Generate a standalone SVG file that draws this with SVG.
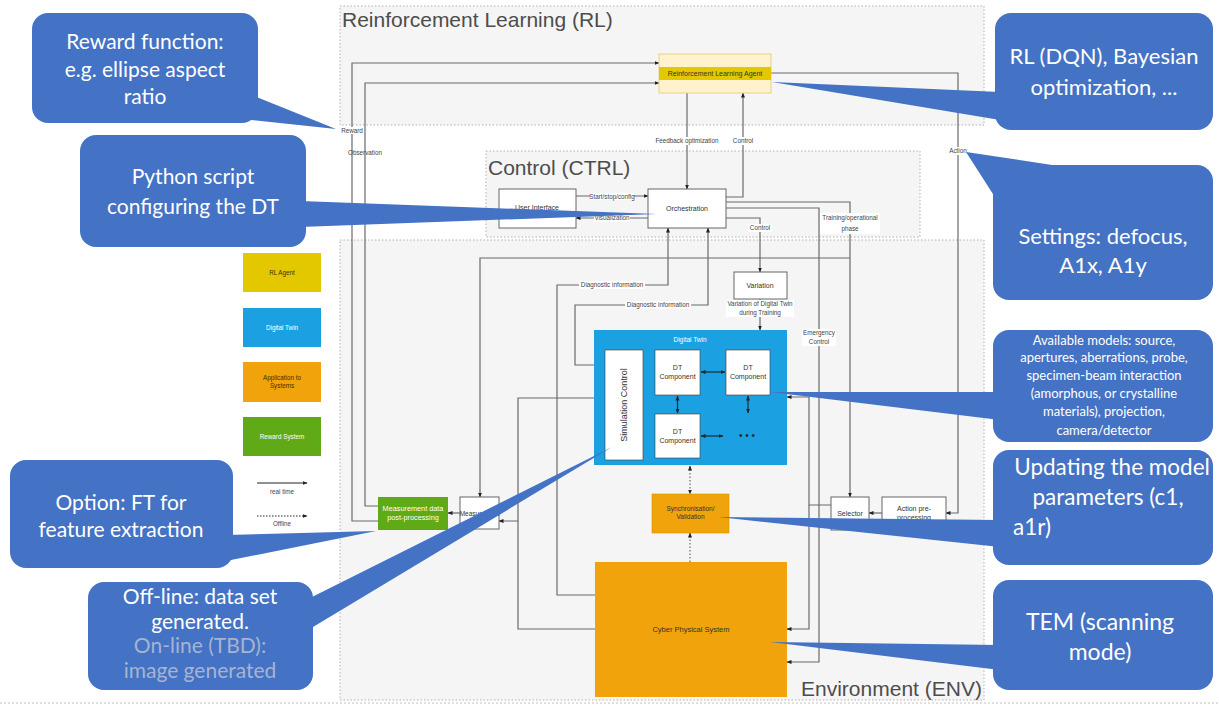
<svg xmlns="http://www.w3.org/2000/svg" width="1219" height="706" viewBox="0 0 1219 706">
  <style>
    .zone { fill: #f5f5f5; stroke: #b0b0b0; stroke-width: 1; stroke-dasharray: 1.5 2; }
    .zt { font-family: "Liberation Sans", Arial, sans-serif; font-size: 21px; fill: #4d4d4d; }
    .box { fill: #ffffff; stroke: #666666; stroke-width: 1; }
    .t { font-family: "Liberation Sans", Arial, sans-serif; font-size: 7px; fill: #333333; text-anchor: middle; }
    .s { font-family: "Liberation Sans", Arial, sans-serif; font-size: 6.3px; fill: #444444; text-anchor: middle; }
    .w { fill: #ffffff; }
    .lbg { fill: #ffffff; }
    .ln { fill: none; stroke: #6b6b6b; stroke-width: 1.2; }
    .dot { fill: none; stroke: #6b6b6b; stroke-width: 1.2; stroke-dasharray: 1.5 2; }
    .co { fill: #4472c4; }
    .ct { font-family: Lato, "Open Sans", sans-serif; fill: #ffffff; text-anchor: middle; }
  </style>
  <defs>
    <marker id="ah" viewBox="0 0 10 10" refX="9" refY="5" markerWidth="5" markerHeight="5" orient="auto-start-reverse" markerUnits="userSpaceOnUse">
      <path d="M0,1 L10,5 L0,9 Z" fill="#222222"/>
    </marker>
  </defs>

  <rect width="1219" height="706" fill="#ffffff"/>

  <!-- zones -->
  <g id="zone-rl">
    <rect class="zone" x="340" y="6" width="644" height="119"/>
    <text class="zt" x="342" y="27">Reinforcement Learning (RL)</text>
  </g>
  <g id="zone-ctrl">
    <rect class="zone" x="486" y="151" width="434" height="86"/>
    <text class="zt" x="488" y="175">Control (CTRL)</text>
  </g>
  <g id="zone-env">
    <rect class="zone" x="340" y="240" width="644" height="460"/>
    <text class="zt" x="801" y="696">Environment (ENV)</text>
  </g>
  <line x1="0" y1="703" x2="1219" y2="703" stroke="#c0c0c0" stroke-width="1" stroke-dasharray="2 2"/>

  <!-- connectors -->
  <g id="connectors">
    <path class="ln" d="M378,521 H352 V63 H659" marker-end="url(#ah)"/>
    <path class="ln" d="M378,506 H365 V83 H659" marker-end="url(#ah)"/>
    <path class="ln" d="M687,93 V189" marker-end="url(#ah)"/>
    <path class="ln" d="M726,197 H743 V93" marker-end="url(#ah)"/>
    <path class="ln" d="M771,73 H958 V513 H946" marker-end="url(#ah)"/>
    <path class="ln" d="M576,196 H648" marker-end="url(#ah)"/>
    <path class="ln" d="M648,218 H576" marker-end="url(#ah)"/>
    <path class="ln" d="M726,202 H850 V497" marker-end="url(#ah)"/>
    <path class="ln" d="M850,258 H480 V497" marker-end="url(#ah)"/>
    <path class="ln" d="M726,208 H819 V662 H787" marker-end="url(#ah)"/>
    <path class="ln" d="M726,218 H760 V272" marker-end="url(#ah)"/>
    <path class="ln" d="M760,299 V330" marker-end="url(#ah)"/>
    <path class="ln" d="M595,595 H557 V285 H668 V228" marker-end="url(#ah)"/>
    <path class="ln" d="M594,365 H575 V305 H708 V228" marker-end="url(#ah)"/>
    <path class="ln" d="M594,398 H518 V521 H499" marker-end="url(#ah)"/>
    <path class="ln" d="M595,629 H518 V521"/>
    <path class="ln" d="M831,505 H809 V397 H787" marker-end="url(#ah)"/>
    <path class="ln" d="M809,505 V629 H787" marker-end="url(#ah)"/>
    <path class="ln" d="M882,513 H869" marker-end="url(#ah)"/>
    <path class="ln" d="M460,513 H448" marker-end="url(#ah)"/>
    <path class="dot" d="M690,466 V494" marker-start="url(#ah)" marker-end="url(#ah)"/>
    <path class="dot" d="M690,562 V533" marker-end="url(#ah)"/>

    <!-- edge labels -->
    <rect class="lbg" x="341" y="127" width="22" height="7"/>
    <text class="s" x="352" y="133">Reward</text>
    <text class="s" x="365" y="155">Observation</text>
    <rect class="lbg" x="652" y="137" width="70" height="8"/>
    <text class="s" x="687" y="143">Feedback optimization</text>
    <rect class="lbg" x="732" y="137" width="22" height="8"/>
    <text class="s" x="743" y="143">Control</text>
    <rect class="lbg" x="948" y="147" width="20" height="8"/>
    <text class="s" x="958" y="153">Action</text>
    <rect class="lbg" x="590" y="193" width="44" height="7"/>
    <text class="s" x="612" y="198.5">Start/stop/config</text>
    <rect class="lbg" x="594" y="214" width="36" height="8"/>
    <text class="s" x="612" y="220">Visualization</text>
    <rect class="lbg" x="820" y="213" width="60" height="21"/>
    <text class="s" x="850" y="220">Training/operational</text>
    <text class="s" x="850" y="231">phase</text>
    <rect class="lbg" x="748" y="224" width="24" height="8"/>
    <text class="s" x="760" y="230">Control</text>
    <rect class="lbg" x="726" y="300" width="68" height="17"/>
    <text class="s" x="760" y="306">Variation of Digital Twin</text>
    <text class="s" x="760" y="315">during Training</text>
    <rect class="lbg" x="802" y="329" width="34" height="17"/>
    <text class="s" x="819" y="335">Emergency</text>
    <text class="s" x="819" y="344">Control</text>
    <rect class="lbg" x="579" y="281" width="66" height="8"/>
    <text class="s" x="612" y="287">Diagnostic information</text>
    <rect class="lbg" x="625" y="301" width="66" height="8"/>
    <text class="s" x="658" y="307">Diagnostic information</text>
  </g>

  <!-- RL agent -->
  <g id="rl-agent">
    <rect x="659" y="54" width="112" height="39" fill="#fff2cc" stroke="#e8d28a" stroke-width="1"/>
    <rect x="659" y="67" width="112" height="13" fill="#e3c800"/>
    <text class="t" x="715" y="76" fill="#4a3f00">Reinforcement Learning Agent</text>
  </g>

  <!-- control nodes -->
  <g id="user-interface">
    <rect class="box" x="499" y="189" width="77" height="39"/>
    <text class="t" x="537" y="210">User Interface</text>
  </g>
  <g id="orchestration">
    <rect class="box" x="648" y="189" width="78" height="39"/>
    <text class="t" x="687" y="210.5">Orchestration</text>
  </g>

  <!-- environment nodes -->
  <g id="variation">
    <rect class="box" x="734" y="272" width="53" height="27"/>
    <text class="t" x="760" y="288">Variation</text>
  </g>
  <g id="digital-twin">
    <rect x="594" y="330" width="193" height="135" fill="#1ba1e2"/>
    <text class="t" x="690" y="342" style="fill:#ffffff;font-size:6.5px">Digital Twin</text>
    <rect x="605" y="350" width="38" height="110" fill="#ffffff" stroke="#3a3a3a" stroke-width="0.6"/>
    <text class="t" transform="translate(627,405) rotate(-90)" style="font-size:9px">Simulation Control</text>
  </g>
  <g id="dt-component-1">
    <rect x="655" y="350" width="45" height="45" fill="#ffffff" stroke="#3a3a3a" stroke-width="0.6"/>
    <text class="t" x="677.5" y="370">DT</text>
    <text class="t" x="677.5" y="379">Component</text>
  </g>
  <g id="dt-component-2">
    <rect x="726" y="350" width="44" height="45" fill="#ffffff" stroke="#3a3a3a" stroke-width="0.6"/>
    <text class="t" x="748" y="370">DT</text>
    <text class="t" x="748" y="379">Component</text>
  </g>
  <g id="dt-component-3">
    <rect x="655" y="414" width="45" height="44" fill="#ffffff" stroke="#3a3a3a" stroke-width="0.6"/>
    <text class="t" x="677.5" y="434">DT</text>
    <text class="t" x="677.5" y="443">Component</text>
  </g>
  <g id="dt-links">
    <path d="M701,372 H725" stroke="#1a2a3a" stroke-width="1.2" fill="none" marker-start="url(#ah)" marker-end="url(#ah)"/>
    <path d="M677.5,396 V413" stroke="#1a2a3a" stroke-width="1.2" fill="none" marker-start="url(#ah)" marker-end="url(#ah)"/>
    <path d="M748,396 V413" stroke="#1a2a3a" stroke-width="1.2" fill="none" marker-start="url(#ah)" marker-end="url(#ah)"/>
    <path d="M701,436 H723" stroke="#1a2a3a" stroke-width="1.2" fill="none" marker-start="url(#ah)" marker-end="url(#ah)"/>
    <text x="747" y="439" font-family="Liberation Sans, sans-serif" font-size="10" fill="#1a2a3a" text-anchor="middle">• • •</text>
  </g>
  <g id="sync-validation">
    <rect x="652" y="494" width="77" height="39" fill="#f0a30a" stroke="#d98f00" stroke-width="0.6"/>
    <text class="t" x="690.5" y="511" style="font-size:6.5px">Synchronisation/</text>
    <text class="t" x="690.5" y="519" style="font-size:6.5px">Validation</text>
  </g>
  <g id="cyber-physical-system">
    <rect x="595" y="562" width="192" height="135" fill="#f0a30a"/>
    <text class="t" x="691" y="632" style="font-size:7.5px">Cyber Physical System</text>
  </g>
  <g id="measurement-post">
    <rect x="378" y="497" width="70" height="33" fill="#60a917"/>
    <text class="t w" x="413" y="511" style="font-size:7.3px;fill:#ffffff">Measurement data</text>
    <text class="t w" x="413" y="520" style="font-size:7.3px;fill:#ffffff">post-processing</text>
  </g>
  <g id="measurement">
    <rect class="box" x="460" y="497" width="39" height="32"/>
    <text class="t" x="479.5" y="515.5" style="font-size:6.5px">Measurement</text>
  </g>
  <g id="selector">
    <rect class="box" x="831" y="497" width="38" height="33"/>
    <text class="t" x="850" y="516">Selector</text>
  </g>
  <g id="action-pre">
    <rect class="box" x="882" y="497" width="64" height="33"/>
    <text class="t" x="914" y="511">Action pre-</text>
    <text class="t" x="914" y="520">processing</text>
  </g>

  <!-- legend -->
  <g id="legend">
    <rect x="243" y="253" width="78" height="39" fill="#e3c800"/>
    <text class="s" x="282" y="275" style="fill:#3a3300">RL Agent</text>
    <rect x="243" y="308" width="78" height="39" fill="#1ba1e2"/>
    <text class="s" x="282" y="330" style="fill:#ffffff">Digital Twin</text>
    <rect x="243" y="362" width="78" height="40" fill="#f0a30a"/>
    <text class="s" x="282" y="380" style="fill:#4a2c00">Application to</text>
    <text class="s" x="282" y="388" style="fill:#4a2c00">Systems</text>
    <rect x="243" y="417" width="78" height="39" fill="#60a917"/>
    <text class="s" x="282" y="439" style="fill:#ffffff">Reward System</text>
    <path d="M257,483 H307" stroke="#222222" stroke-width="1" fill="none" marker-end="url(#ah)"/>
    <text class="s" x="282" y="494">real time</text>
    <path d="M257,516 H307" stroke="#222222" stroke-width="1" stroke-dasharray="1.5 1.5" fill="none" marker-end="url(#ah)"/>
    <text class="s" x="282" y="526">Offline</text>
  </g>

  <!-- callouts -->
  <g id="callout-reward">
    <polygon class="co" points="232,118 254,96 336,129"/>
    <rect class="co" x="32" y="13" width="226" height="110" rx="16"/>
    <text class="ct" x="145" y="49" font-size="21">Reward function:</text>
    <text class="ct" x="145" y="77" font-size="21">e.g. ellipse aspect</text>
    <text class="ct" x="145" y="104" font-size="21">ratio</text>
  </g>
  <g id="callout-python">
    <polygon class="co" points="300,201 300,227 657,214"/>
    <rect class="co" x="80" y="135" width="226" height="112" rx="16"/>
    <text class="ct" x="193" y="184" font-size="21">Python script</text>
    <text class="ct" x="193" y="214" font-size="21">configuring the DT</text>
  </g>
  <g id="callout-option">
    <polygon class="co" points="226,535 226,561 376,531"/>
    <rect class="co" x="10" y="460" width="223" height="108" rx="16"/>
    <text class="ct" x="121" y="510" font-size="21">Option: FT for</text>
    <text class="ct" x="121" y="537" font-size="21">feature extraction</text>
  </g>
  <g id="callout-offline">
    <polygon class="co" points="300,603 308,630 612,447"/>
    <rect class="co" x="88" y="582" width="225" height="108" rx="16"/>
    <text class="ct" x="200" y="604" font-size="21">Off-line: data set</text>
    <text class="ct" x="200" y="629" font-size="21">generated.</text>
    <text class="ct" x="200" y="653" font-size="21" style="fill:#a6b4d2">On-line (TBD):</text>
    <text class="ct" x="200" y="678" font-size="21" style="fill:#a6b4d2">image generated</text>
  </g>
  <g id="callout-rl">
    <polygon class="co" points="772,82 1000,92 1000,120"/>
    <rect class="co" x="995" y="13" width="218" height="117" rx="16"/>
    <text class="ct" x="1104" y="64" font-size="22">RL (DQN), Bayesian</text>
    <text class="ct" x="1104" y="95" font-size="22">optimization, ...</text>
  </g>
  <g id="callout-settings">
    <polygon class="co" points="966,152 1085,170 1000,205"/>
    <rect class="co" x="993" y="165" width="220" height="135" rx="16"/>
    <text class="ct" x="1103" y="244" font-size="22">Settings: defocus,</text>
    <text class="ct" x="1103" y="273" font-size="22">A1x, A1y</text>
  </g>
  <g id="callout-models">
    <polygon class="co" points="770,392 1000,392 1000,420"/>
    <rect class="co" x="993" y="330" width="220" height="112" rx="16"/>
    <text class="ct" x="1104" y="345" font-size="13">Available models: source,</text>
    <text class="ct" x="1104" y="362" font-size="13">apertures, aberrations, probe,</text>
    <text class="ct" x="1104" y="380" font-size="13">specimen-beam interaction</text>
    <text class="ct" x="1104" y="398" font-size="13">(amorphous, or crystalline</text>
    <text class="ct" x="1104" y="416" font-size="13">materials), projection,</text>
    <text class="ct" x="1104" y="435" font-size="13">camera/detector</text>
  </g>
  <g id="callout-update">
    <polygon class="co" points="718,517 1000,520 1000,547"/>
    <rect class="co" x="993" y="450" width="220" height="115" rx="16"/>
    <text class="ct" x="1112" y="475" font-size="22.5">Updating the model</text>
    <text class="ct" x="1108" y="505" font-size="22.5">parameters (c1,</text>
    <text class="ct" x="1013" y="535" font-size="22.5" style="text-anchor:start">a1r)</text>
  </g>
  <g id="callout-tem">
    <polygon class="co" points="770,642 1000,645 1000,670"/>
    <rect class="co" x="993" y="580" width="220" height="110" rx="16"/>
    <text class="ct" x="1100" y="630" font-size="23">TEM (scanning</text>
    <text class="ct" x="1100" y="660" font-size="23">mode)</text>
  </g>
</svg>
